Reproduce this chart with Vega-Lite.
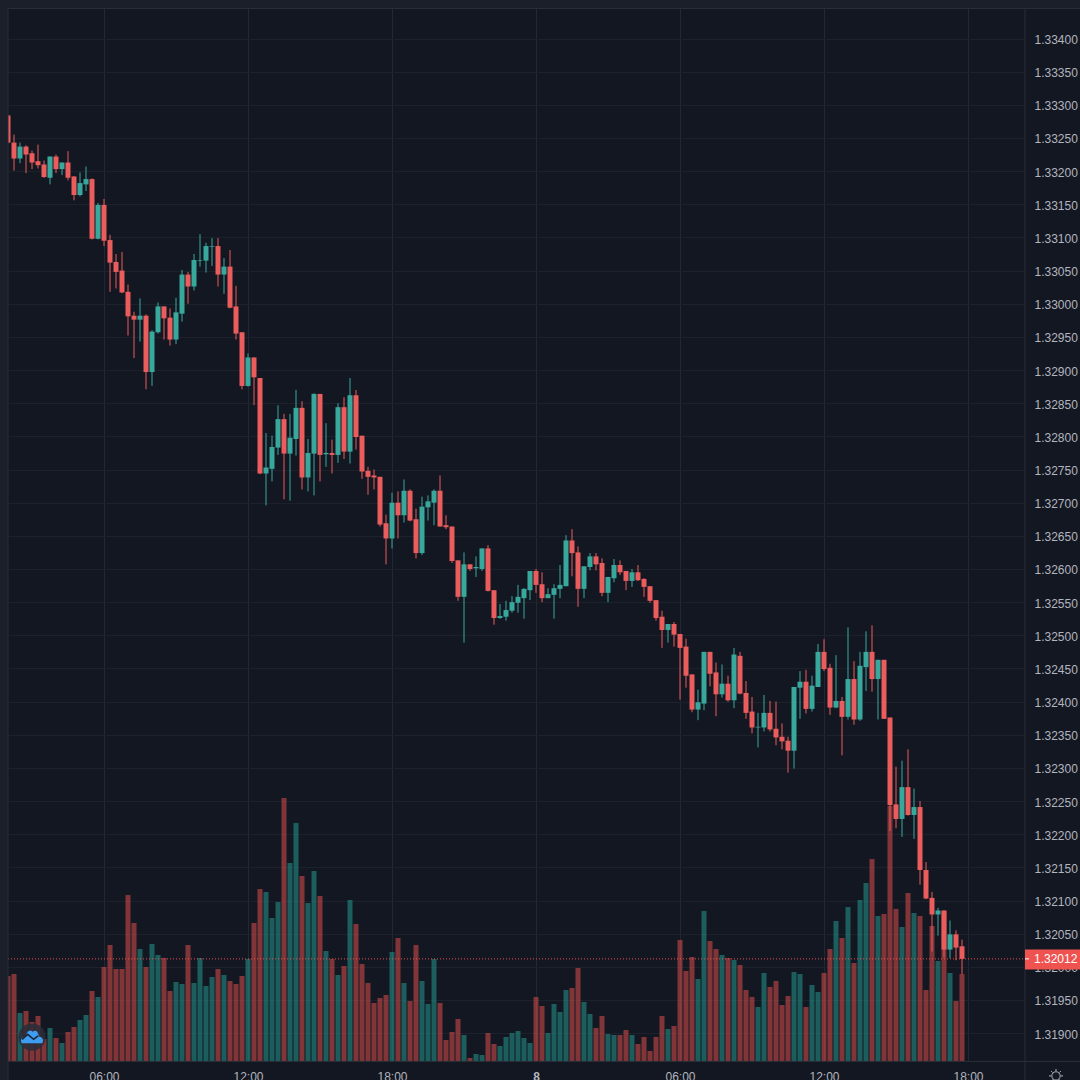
{
"$schema":"https://vega.github.io/schema/vega-lite/v6.json",
"width":1017,"height":1053,
"autosize":{"type":"none"},
"padding":{"left":8,"top":8,"right":55,"bottom":19},
"background":"#131722",
"config":{"view":{"stroke":null},"font":"Liberation Sans"},
"datasets":{
"candles":[
{"t":"2021-06-07T02:00Z","o":1.33284,"h":1.33284,"l":1.33242,"c":1.33243,"v":85},
{"t":"2021-06-07T02:15Z","o":1.33243,"h":1.33255,"l":1.33201,"c":1.33219,"v":87},
{"t":"2021-06-07T02:30Z","o":1.33219,"h":1.33243,"l":1.33212,"c":1.33237,"v":48},
{"t":"2021-06-07T02:45Z","o":1.33237,"h":1.33239,"l":1.33197,"c":1.33225,"v":50},
{"t":"2021-06-07T03:00Z","o":1.33227,"h":1.33231,"l":1.33203,"c":1.33213,"v":39},
{"t":"2021-06-07T03:15Z","o":1.33215,"h":1.33240,"l":1.33204,"c":1.33209,"v":45},
{"t":"2021-06-07T03:30Z","o":1.33210,"h":1.33216,"l":1.33190,"c":1.33191,"v":22},
{"t":"2021-06-07T03:45Z","o":1.33190,"h":1.33222,"l":1.33180,"c":1.33222,"v":33},
{"t":"2021-06-07T04:00Z","o":1.33222,"h":1.33225,"l":1.33197,"c":1.33203,"v":23},
{"t":"2021-06-07T04:15Z","o":1.33203,"h":1.33213,"l":1.33194,"c":1.33213,"v":18},
{"t":"2021-06-07T04:30Z","o":1.33213,"h":1.33230,"l":1.33186,"c":1.33190,"v":29},
{"t":"2021-06-07T04:45Z","o":1.33192,"h":1.33192,"l":1.33156,"c":1.33164,"v":34},
{"t":"2021-06-07T05:00Z","o":1.33164,"h":1.33198,"l":1.33162,"c":1.33182,"v":41},
{"t":"2021-06-07T05:15Z","o":1.33180,"h":1.33207,"l":1.33170,"c":1.33188,"v":46},
{"t":"2021-06-07T05:30Z","o":1.33188,"h":1.33189,"l":1.33097,"c":1.33098,"v":70},
{"t":"2021-06-07T05:45Z","o":1.33098,"h":1.33152,"l":1.33097,"c":1.33149,"v":64},
{"t":"2021-06-07T06:00Z","o":1.33149,"h":1.33158,"l":1.33087,"c":1.33095,"v":94},
{"t":"2021-06-07T06:15Z","o":1.33096,"h":1.33104,"l":1.33018,"c":1.33062,"v":116},
{"t":"2021-06-07T06:30Z","o":1.33063,"h":1.33075,"l":1.33023,"c":1.33048,"v":92},
{"t":"2021-06-07T06:45Z","o":1.33050,"h":1.33078,"l":1.33016,"c":1.33017,"v":92},
{"t":"2021-06-07T07:00Z","o":1.33018,"h":1.33029,"l":1.32952,"c":1.32981,"v":166},
{"t":"2021-06-07T07:15Z","o":1.32982,"h":1.32988,"l":1.32918,"c":1.32976,"v":138},
{"t":"2021-06-07T07:30Z","o":1.32976,"h":1.33008,"l":1.32943,"c":1.32982,"v":112},
{"t":"2021-06-07T07:45Z","o":1.32982,"h":1.32984,"l":1.32871,"c":1.32897,"v":94},
{"t":"2021-06-07T08:00Z","o":1.32897,"h":1.32960,"l":1.32876,"c":1.32958,"v":117},
{"t":"2021-06-07T08:15Z","o":1.32957,"h":1.33002,"l":1.32955,"c":1.32996,"v":106},
{"t":"2021-06-07T08:30Z","o":1.32996,"h":1.32996,"l":1.32946,"c":1.32978,"v":103},
{"t":"2021-06-07T08:45Z","o":1.32979,"h":1.32993,"l":1.32937,"c":1.32946,"v":70},
{"t":"2021-06-07T09:00Z","o":1.32946,"h":1.33009,"l":1.32939,"c":1.32987,"v":79},
{"t":"2021-06-07T09:15Z","o":1.32985,"h":1.33051,"l":1.32973,"c":1.33044,"v":77},
{"t":"2021-06-07T09:30Z","o":1.33044,"h":1.33048,"l":1.33000,"c":1.33026,"v":116},
{"t":"2021-06-07T09:45Z","o":1.33026,"h":1.33075,"l":1.33020,"c":1.33066,"v":78},
{"t":"2021-06-07T10:00Z","o":1.33065,"h":1.33105,"l":1.33056,"c":1.33066,"v":103},
{"t":"2021-06-07T10:15Z","o":1.33065,"h":1.33092,"l":1.33047,"c":1.33087,"v":75},
{"t":"2021-06-07T10:30Z","o":1.33086,"h":1.33099,"l":1.33057,"c":1.33087,"v":84},
{"t":"2021-06-07T10:45Z","o":1.33087,"h":1.33099,"l":1.33026,"c":1.33044,"v":92},
{"t":"2021-06-07T11:00Z","o":1.33044,"h":1.33069,"l":1.33015,"c":1.33056,"v":86},
{"t":"2021-06-07T11:15Z","o":1.33056,"h":1.33081,"l":1.32993,"c":1.32994,"v":80},
{"t":"2021-06-07T11:30Z","o":1.32996,"h":1.33027,"l":1.32946,"c":1.32955,"v":77},
{"t":"2021-06-07T11:45Z","o":1.32957,"h":1.32957,"l":1.32871,"c":1.32876,"v":85},
{"t":"2021-06-07T12:00Z","o":1.32876,"h":1.32925,"l":1.32875,"c":1.32919,"v":102},
{"t":"2021-06-07T12:15Z","o":1.32919,"h":1.32919,"l":1.32847,"c":1.32889,"v":138},
{"t":"2021-06-07T12:30Z","o":1.32888,"h":1.32888,"l":1.32743,"c":1.32744,"v":172},
{"t":"2021-06-07T12:45Z","o":1.32744,"h":1.32805,"l":1.32696,"c":1.32753,"v":169},
{"t":"2021-06-07T13:00Z","o":1.32751,"h":1.32801,"l":1.32732,"c":1.32784,"v":143},
{"t":"2021-06-07T13:15Z","o":1.32783,"h":1.32847,"l":1.32772,"c":1.32826,"v":159},
{"t":"2021-06-07T13:30Z","o":1.32826,"h":1.32834,"l":1.32705,"c":1.32774,"v":263},
{"t":"2021-06-07T13:45Z","o":1.32774,"h":1.32834,"l":1.32703,"c":1.32798,"v":198},
{"t":"2021-06-07T14:00Z","o":1.32796,"h":1.32870,"l":1.32771,"c":1.32843,"v":238},
{"t":"2021-06-07T14:15Z","o":1.32843,"h":1.32853,"l":1.32720,"c":1.32738,"v":185},
{"t":"2021-06-07T14:30Z","o":1.32738,"h":1.32796,"l":1.32717,"c":1.32775,"v":158},
{"t":"2021-06-07T14:45Z","o":1.32774,"h":1.32865,"l":1.32711,"c":1.32864,"v":190},
{"t":"2021-06-07T15:00Z","o":1.32864,"h":1.32864,"l":1.32732,"c":1.32772,"v":165},
{"t":"2021-06-07T15:15Z","o":1.32773,"h":1.32820,"l":1.32754,"c":1.32775,"v":110},
{"t":"2021-06-07T15:30Z","o":1.32775,"h":1.32795,"l":1.32744,"c":1.32772,"v":102},
{"t":"2021-06-07T15:45Z","o":1.32772,"h":1.32850,"l":1.32760,"c":1.32844,"v":86},
{"t":"2021-06-07T16:00Z","o":1.32844,"h":1.32859,"l":1.32766,"c":1.32777,"v":95},
{"t":"2021-06-07T16:15Z","o":1.32777,"h":1.32888,"l":1.32759,"c":1.32862,"v":161},
{"t":"2021-06-07T16:30Z","o":1.32862,"h":1.32870,"l":1.32780,"c":1.32799,"v":137},
{"t":"2021-06-07T16:45Z","o":1.32801,"h":1.32801,"l":1.32736,"c":1.32747,"v":97},
{"t":"2021-06-07T17:00Z","o":1.32748,"h":1.32754,"l":1.32712,"c":1.32739,"v":78},
{"t":"2021-06-07T17:15Z","o":1.32741,"h":1.32750,"l":1.32720,"c":1.32738,"v":58},
{"t":"2021-06-07T17:30Z","o":1.32739,"h":1.32739,"l":1.32664,"c":1.32667,"v":63},
{"t":"2021-06-07T17:45Z","o":1.32669,"h":1.32682,"l":1.32607,"c":1.32646,"v":66},
{"t":"2021-06-07T18:00Z","o":1.32646,"h":1.32715,"l":1.32631,"c":1.32700,"v":109},
{"t":"2021-06-07T18:15Z","o":1.32700,"h":1.32717,"l":1.32646,"c":1.32681,"v":123},
{"t":"2021-06-07T18:30Z","o":1.32681,"h":1.32735,"l":1.32670,"c":1.32718,"v":78},
{"t":"2021-06-07T18:45Z","o":1.32718,"h":1.32720,"l":1.32672,"c":1.32673,"v":60},
{"t":"2021-06-07T19:00Z","o":1.32675,"h":1.32691,"l":1.32616,"c":1.32624,"v":116},
{"t":"2021-06-07T19:15Z","o":1.32624,"h":1.32709,"l":1.32621,"c":1.32694,"v":80},
{"t":"2021-06-07T19:30Z","o":1.32693,"h":1.32711,"l":1.32673,"c":1.32702,"v":57},
{"t":"2021-06-07T19:45Z","o":1.32700,"h":1.32720,"l":1.32666,"c":1.32718,"v":102},
{"t":"2021-06-07T20:00Z","o":1.32718,"h":1.32741,"l":1.32664,"c":1.32664,"v":58},
{"t":"2021-06-07T20:15Z","o":1.32666,"h":1.32681,"l":1.32660,"c":1.32663,"v":21},
{"t":"2021-06-07T20:30Z","o":1.32664,"h":1.32664,"l":1.32609,"c":1.32612,"v":29},
{"t":"2021-06-07T20:45Z","o":1.32613,"h":1.32613,"l":1.32552,"c":1.32558,"v":42},
{"t":"2021-06-07T21:00Z","o":1.32558,"h":1.32625,"l":1.32489,"c":1.32607,"v":26},
{"t":"2021-06-07T21:15Z","o":1.32607,"h":1.32607,"l":1.32597,"c":1.32600,"v":3},
{"t":"2021-06-07T21:30Z","o":1.32601,"h":1.32619,"l":1.32588,"c":1.32603,"v":7},
{"t":"2021-06-07T21:45Z","o":1.32600,"h":1.32631,"l":1.32597,"c":1.32631,"v":6},
{"t":"2021-06-07T22:00Z","o":1.32631,"h":1.32636,"l":1.32566,"c":1.32567,"v":28},
{"t":"2021-06-07T22:15Z","o":1.32568,"h":1.32568,"l":1.32516,"c":1.32526,"v":17},
{"t":"2021-06-07T22:30Z","o":1.32526,"h":1.32547,"l":1.32525,"c":1.32529,"v":15},
{"t":"2021-06-07T22:45Z","o":1.32528,"h":1.32552,"l":1.32522,"c":1.32538,"v":24},
{"t":"2021-06-07T23:00Z","o":1.32537,"h":1.32559,"l":1.32534,"c":1.32550,"v":28},
{"t":"2021-06-07T23:15Z","o":1.32549,"h":1.32576,"l":1.32534,"c":1.32558,"v":30},
{"t":"2021-06-07T23:30Z","o":1.32556,"h":1.32571,"l":1.32525,"c":1.32570,"v":23},
{"t":"2021-06-07T23:45Z","o":1.32568,"h":1.32597,"l":1.32553,"c":1.32597,"v":18},
{"t":"2021-06-08T00:00Z","o":1.32597,"h":1.32600,"l":1.32564,"c":1.32576,"v":64},
{"t":"2021-06-08T00:15Z","o":1.32577,"h":1.32595,"l":1.32550,"c":1.32556,"v":55},
{"t":"2021-06-08T00:30Z","o":1.32556,"h":1.32571,"l":1.32556,"c":1.32562,"v":28},
{"t":"2021-06-08T00:45Z","o":1.32561,"h":1.32577,"l":1.32525,"c":1.32571,"v":57},
{"t":"2021-06-08T01:00Z","o":1.32570,"h":1.32606,"l":1.32556,"c":1.32576,"v":49},
{"t":"2021-06-08T01:15Z","o":1.32574,"h":1.32651,"l":1.32574,"c":1.32643,"v":71},
{"t":"2021-06-08T01:30Z","o":1.32643,"h":1.32660,"l":1.32589,"c":1.32624,"v":73},
{"t":"2021-06-08T01:45Z","o":1.32625,"h":1.32634,"l":1.32543,"c":1.32570,"v":93},
{"t":"2021-06-08T02:00Z","o":1.32570,"h":1.32604,"l":1.32556,"c":1.32604,"v":59},
{"t":"2021-06-08T02:15Z","o":1.32603,"h":1.32624,"l":1.32598,"c":1.32619,"v":47},
{"t":"2021-06-08T02:30Z","o":1.32619,"h":1.32624,"l":1.32598,"c":1.32607,"v":33},
{"t":"2021-06-08T02:45Z","o":1.32609,"h":1.32616,"l":1.32559,"c":1.32564,"v":45},
{"t":"2021-06-08T03:00Z","o":1.32564,"h":1.32588,"l":1.32550,"c":1.32588,"v":27},
{"t":"2021-06-08T03:15Z","o":1.32586,"h":1.32615,"l":1.32580,"c":1.32606,"v":26},
{"t":"2021-06-08T03:30Z","o":1.32606,"h":1.32613,"l":1.32591,"c":1.32595,"v":26},
{"t":"2021-06-08T03:45Z","o":1.32597,"h":1.32597,"l":1.32568,"c":1.32582,"v":31},
{"t":"2021-06-08T04:00Z","o":1.32582,"h":1.32600,"l":1.32573,"c":1.32595,"v":26},
{"t":"2021-06-08T04:15Z","o":1.32595,"h":1.32606,"l":1.32582,"c":1.32583,"v":17},
{"t":"2021-06-08T04:30Z","o":1.32585,"h":1.32586,"l":1.32558,"c":1.32573,"v":24},
{"t":"2021-06-08T04:45Z","o":1.32574,"h":1.32574,"l":1.32549,"c":1.32552,"v":10},
{"t":"2021-06-08T05:00Z","o":1.32553,"h":1.32553,"l":1.32522,"c":1.32526,"v":24},
{"t":"2021-06-08T05:15Z","o":1.32528,"h":1.32537,"l":1.32481,"c":1.32508,"v":45},
{"t":"2021-06-08T05:30Z","o":1.32508,"h":1.32517,"l":1.32489,"c":1.32517,"v":32},
{"t":"2021-06-08T05:45Z","o":1.32517,"h":1.32520,"l":1.32483,"c":1.32501,"v":35},
{"t":"2021-06-08T06:00Z","o":1.32502,"h":1.32502,"l":1.32403,"c":1.32481,"v":121},
{"t":"2021-06-08T06:15Z","o":1.32483,"h":1.32495,"l":1.32421,"c":1.32439,"v":90},
{"t":"2021-06-08T06:30Z","o":1.32441,"h":1.32441,"l":1.32384,"c":1.32388,"v":104},
{"t":"2021-06-08T06:45Z","o":1.32388,"h":1.32418,"l":1.32372,"c":1.32399,"v":82},
{"t":"2021-06-08T07:00Z","o":1.32397,"h":1.32475,"l":1.32387,"c":1.32475,"v":150},
{"t":"2021-06-08T07:15Z","o":1.32475,"h":1.32475,"l":1.32423,"c":1.32442,"v":120},
{"t":"2021-06-08T07:30Z","o":1.32444,"h":1.32459,"l":1.32378,"c":1.32411,"v":112},
{"t":"2021-06-08T07:45Z","o":1.32411,"h":1.32456,"l":1.32406,"c":1.32427,"v":106},
{"t":"2021-06-08T08:00Z","o":1.32427,"h":1.32439,"l":1.32400,"c":1.32402,"v":103},
{"t":"2021-06-08T08:15Z","o":1.32402,"h":1.32481,"l":1.32390,"c":1.32471,"v":101},
{"t":"2021-06-08T08:30Z","o":1.32469,"h":1.32475,"l":1.32411,"c":1.32412,"v":96},
{"t":"2021-06-08T08:45Z","o":1.32413,"h":1.32431,"l":1.32374,"c":1.32383,"v":71},
{"t":"2021-06-08T09:00Z","o":1.32385,"h":1.32407,"l":1.32352,"c":1.32361,"v":64},
{"t":"2021-06-08T09:15Z","o":1.32361,"h":1.32383,"l":1.32331,"c":1.32362,"v":54},
{"t":"2021-06-08T09:30Z","o":1.32361,"h":1.32410,"l":1.32355,"c":1.32383,"v":88},
{"t":"2021-06-08T09:45Z","o":1.32383,"h":1.32401,"l":1.32355,"c":1.32358,"v":74},
{"t":"2021-06-08T10:00Z","o":1.32359,"h":1.32400,"l":1.32334,"c":1.32346,"v":80},
{"t":"2021-06-08T10:15Z","o":1.32347,"h":1.32367,"l":1.32328,"c":1.32340,"v":56},
{"t":"2021-06-08T10:30Z","o":1.32341,"h":1.32347,"l":1.32293,"c":1.32326,"v":65},
{"t":"2021-06-08T10:45Z","o":1.32326,"h":1.32422,"l":1.32299,"c":1.32422,"v":89},
{"t":"2021-06-08T11:00Z","o":1.32421,"h":1.32446,"l":1.32374,"c":1.32430,"v":87},
{"t":"2021-06-08T11:15Z","o":1.32430,"h":1.32448,"l":1.32382,"c":1.32389,"v":54},
{"t":"2021-06-08T11:30Z","o":1.32389,"h":1.32439,"l":1.32385,"c":1.32424,"v":76},
{"t":"2021-06-08T11:45Z","o":1.32422,"h":1.32487,"l":1.32422,"c":1.32475,"v":69},
{"t":"2021-06-08T12:00Z","o":1.32475,"h":1.32494,"l":1.32446,"c":1.32449,"v":88},
{"t":"2021-06-08T12:15Z","o":1.32451,"h":1.32457,"l":1.32380,"c":1.32391,"v":112},
{"t":"2021-06-08T12:30Z","o":1.32391,"h":1.32470,"l":1.32390,"c":1.32401,"v":140},
{"t":"2021-06-08T12:45Z","o":1.32401,"h":1.32407,"l":1.32319,"c":1.32377,"v":123},
{"t":"2021-06-08T13:00Z","o":1.32377,"h":1.32512,"l":1.32373,"c":1.32434,"v":154},
{"t":"2021-06-08T13:15Z","o":1.32434,"h":1.32461,"l":1.32365,"c":1.32373,"v":98},
{"t":"2021-06-08T13:30Z","o":1.32373,"h":1.32475,"l":1.32371,"c":1.32454,"v":161},
{"t":"2021-06-08T13:45Z","o":1.32452,"h":1.32506,"l":1.32416,"c":1.32475,"v":178},
{"t":"2021-06-08T14:00Z","o":1.32475,"h":1.32515,"l":1.32415,"c":1.32434,"v":202},
{"t":"2021-06-08T14:15Z","o":1.32434,"h":1.32463,"l":1.32373,"c":1.32463,"v":145},
{"t":"2021-06-08T14:30Z","o":1.32463,"h":1.32463,"l":1.32374,"c":1.32374,"v":147},
{"t":"2021-06-08T14:45Z","o":1.32376,"h":1.32376,"l":1.32205,"c":1.32244,"v":255},
{"t":"2021-06-08T15:00Z","o":1.32245,"h":1.32302,"l":1.32209,"c":1.32223,"v":152},
{"t":"2021-06-08T15:15Z","o":1.32223,"h":1.32311,"l":1.32196,"c":1.32271,"v":134},
{"t":"2021-06-08T15:30Z","o":1.32271,"h":1.32328,"l":1.32228,"c":1.32229,"v":168},
{"t":"2021-06-08T15:45Z","o":1.32229,"h":1.32269,"l":1.32193,"c":1.32241,"v":148},
{"t":"2021-06-08T16:00Z","o":1.32241,"h":1.32250,"l":1.32124,"c":1.32146,"v":145},
{"t":"2021-06-08T16:15Z","o":1.32146,"h":1.32158,"l":1.32102,"c":1.32103,"v":71},
{"t":"2021-06-08T16:30Z","o":1.32104,"h":1.32113,"l":1.32023,"c":1.32079,"v":135},
{"t":"2021-06-08T16:45Z","o":1.32079,"h":1.32089,"l":1.32047,"c":1.32085,"v":100},
{"t":"2021-06-08T17:00Z","o":1.32085,"h":1.32085,"l":1.32014,"c":1.32026,"v":150},
{"t":"2021-06-08T17:15Z","o":1.32026,"h":1.32070,"l":1.32013,"c":1.32049,"v":88},
{"t":"2021-06-08T17:30Z","o":1.32049,"h":1.32055,"l":1.32010,"c":1.32029,"v":60},
{"t":"2021-06-08T17:45Z","o":1.32031,"h":1.32041,"l":1.31989,"c":1.32012,"v":87}
],
"strips":[
{"t":"2021-06-07T01:40:00Z","t2":"2021-06-07T02:00:00Z","p":1.33458,"p2":1.31829},
{"t":"2021-06-07T01:40:00Z","t2":"2021-06-08T22:40:00Z","p":1.33458,"p2":1.33446}
],
"frameH":[
{"t":"2021-06-07T02:00Z","t2":"2021-06-08T22:40:00Z","p":1.334453},
{"t":"2021-06-07T02:00Z","t2":"2021-06-08T22:40:00Z","p":1.318573}
],
"frameV":[
{"t":"2021-06-07T02:00Z","p":1.334453,"p2":1.31829},
{"t":"2021-06-08T20:22:30Z","p":1.334453,"p2":1.31829}
],
"last":[{"t":"2021-06-07T02:00:00Z","t2":"2021-06-08T20:22:30Z","p":1.32012}],
"tagTick":[{"t":"2021-06-08T20:22:30Z","t2":"2021-06-08T20:32:30Z","p":1.32012}],
"tag":[{"t":"2021-06-08T20:22:30Z","t2":"2021-06-08T22:40:00Z","p":1.32012,"top":1.32026,"bottom":1.31996}],
"logo":[{"t":"2021-06-07T03:00:00Z","p":1.31894}],
"gear":[{"t":"2021-06-08T21:40:00Z","p":1.318355}]
},
"encoding":{"x":{"field":"t","type":"temporal","title":null,
 "scale":{"type":"utc","nice":false,"padding":0,"domain":[1623031200000,1623183750000]},
 "axis":{"values":[1623045600000,1623067200000,1623088800000,1623110400000,1623132000000,1623153600000,1623175200000],"grid":true,"gridColor":"#232732","gridWidth":1,"domain":false,"ticks":false,"labelColor":"#b2b5be","labelFontSize":12,"labelPadding":10,"labelOverlap":false,"labelFlush":false,"labelBound":false,
  "labelExpr":"utchours(datum.value)==0 ? utcFormat(datum.value,'%-d') : utcFormat(datum.value,'%H:%M')",
  "labelFontWeight":{"condition":{"test":"utchours(datum.value)==0","value":"bold"},"value":"normal"}}}},
"resolve":{"scale":{"y":"independent"}},
"layer":[
{"data":{"name":"strips"},"mark":{"type":"rect","color":"#1b1f2a","clip":false},
 "encoding":{"x2":{"field":"t2"},
  "y":{"field":"p","type":"quantitative","title":null,"scale":{"domain":[1.31858,1.33446],"zero":false,"nice":false},
   "axis":{"orient":"right","values":[1.334,1.3335,1.333,1.3325,1.332,1.3315,1.331,1.3305,1.33,1.3295,1.329,1.3285,1.328,1.3275,1.327,1.3265,1.326,1.3255,1.325,1.3245,1.324,1.3235,1.323,1.3225,1.322,1.3215,1.321,1.3205,1.32,1.3195,1.319],"format":".5f","grid":true,"gridColor":"#1d212c","domain":false,"ticks":false,"labelColor":"#b2b5be","labelFontSize":12,"labelPadding":9,"labelOffset":1,"labelOverlap":false,"labelBound":false,"labelFlush":false}},
  "y2":{"field":"p2"}}},
{"data":{"name":"candles"},"mark":{"type":"bar","width":5,"opacity":0.5,"clip":true},
 "encoding":{"y":{"field":"v","type":"quantitative","axis":null,"scale":{"domain":[0,1053],"nice":false}},
  "color":{"condition":{"test":"datum.c>=datum.o","value":"#26a69a"},"value":"#ef5350"}}},
{"data":{"name":"candles"},"mark":{"type":"rule","strokeWidth":1,"clip":true},
 "encoding":{"y":{"field":"l","type":"quantitative","axis":null,"scale":{"domain":[1.31858,1.33446],"zero":false,"nice":false}},"y2":{"field":"h"},
  "color":{"condition":{"test":"datum.c>=datum.o","value":"#38a89d"},"value":"#eb5c5c"}}},
{"data":{"name":"candles"},"mark":{"type":"bar","width":5,"orient":"vertical","clip":true},
 "encoding":{"y":{"field":"o","type":"quantitative","axis":null,"scale":{"domain":[1.31858,1.33446],"zero":false,"nice":false}},"y2":{"field":"c"},
  "color":{"condition":{"test":"datum.c>=datum.o","value":"#38a89d"},"value":"#eb5c5c"}}},
{"data":{"name":"last"},"mark":{"type":"rule","color":"#ef5350","strokeWidth":1,"strokeDash":[1,2]},
 "encoding":{"x2":{"field":"t2"},"y":{"field":"p","type":"quantitative","axis":null,"scale":{"domain":[1.31858,1.33446],"zero":false,"nice":false}}}},
{"data":{"name":"frameH"},"mark":{"type":"rule","color":"#2a2e39","strokeWidth":1},
 "encoding":{"x2":{"field":"t2"},"y":{"field":"p","type":"quantitative","axis":null,"scale":{"domain":[1.31858,1.33446],"zero":false,"nice":false}}}},
{"data":{"name":"frameV"},"mark":{"type":"rule","color":"#2a2e39","strokeWidth":1},
 "encoding":{"y":{"field":"p","type":"quantitative","axis":null,"scale":{"domain":[1.31858,1.33446],"zero":false,"nice":false}},"y2":{"field":"p2"}}},
{"data":{"name":"tag"},"mark":{"type":"rect","color":"#ef5350"},
 "encoding":{"x2":{"field":"t2"},"y":{"field":"top","type":"quantitative","axis":null,"scale":{"domain":[1.31858,1.33446],"zero":false,"nice":false}},"y2":{"field":"bottom"}}},
{"data":{"name":"tag"},"mark":{"type":"text","align":"left","baseline":"middle","dx":9,"fontSize":12,"color":"#ffffff"},
 "encoding":{"y":{"field":"p","type":"quantitative","axis":null,"scale":{"domain":[1.31858,1.33446],"zero":false,"nice":false}},"text":{"field":"p","format":".5f"}}},
{"data":{"name":"tagTick"},"mark":{"type":"rule","color":"#ffffff","strokeWidth":1},
 "encoding":{"x2":{"field":"t2"},"y":{"field":"p","type":"quantitative","axis":null,"scale":{"domain":[1.31858,1.33446],"zero":false,"nice":false}}}},
{"data":{"name":"logo"},"mark":{"type":"point","shape":"circle","filled":true,"size":740,"color":"#2a2e39","opacity":0.88},
 "encoding":{"y":{"field":"p","type":"quantitative","axis":null,"scale":{"domain":[1.31858,1.33446],"zero":false,"nice":false}}}},
{"data":{"name":"logo"},"mark":{"type":"point","filled":true,"size":484,"opacity":1,"color":"#3d9df2","shape":"M-0.95,0.55 Q-1.15,0.05 -0.6,-0.05 Q-0.35,-0.85 0.05,-0.5 Q0.5,-0.8 0.62,-0.05 Q1.15,0.05 0.95,0.55 Z"},
 "encoding":{"y":{"field":"p","type":"quantitative","axis":null,"scale":{"domain":[1.31858,1.33446],"zero":false,"nice":false}}}},
{"data":{"name":"logo"},"mark":{"type":"point","filled":false,"size":484,"opacity":1,"color":"#1c2433","strokeWidth":1.6,"shape":"M-0.9,0.2 L-0.4,-0.25 L0.15,0.2 L0.55,-0.12"},
 "encoding":{"y":{"field":"p","type":"quantitative","axis":null,"scale":{"domain":[1.31858,1.33446],"zero":false,"nice":false}}}},
{"data":{"name":"gear"},"mark":{"type":"point","filled":false,"size":196,"opacity":1,"color":"#b2b5be","strokeWidth":1,"shape":"M0.6,0 A0.6,0.6,0,1,1,-0.6,0 A0.6,0.6,0,1,1,0.6,0 Z M0,-1 L0,-0.7 M0,1 L0,0.7 M-1,0 L-0.7,0 M1,0 L0.7,0 M-0.7,-0.7 L-0.5,-0.5 M0.7,-0.7 L0.5,-0.5 M-0.7,0.7 L-0.5,0.5 M0.7,0.7 L0.5,0.5"},
 "encoding":{"y":{"field":"p","type":"quantitative","axis":null,"scale":{"domain":[1.31858,1.33446],"zero":false,"nice":false}}}}
]
}
